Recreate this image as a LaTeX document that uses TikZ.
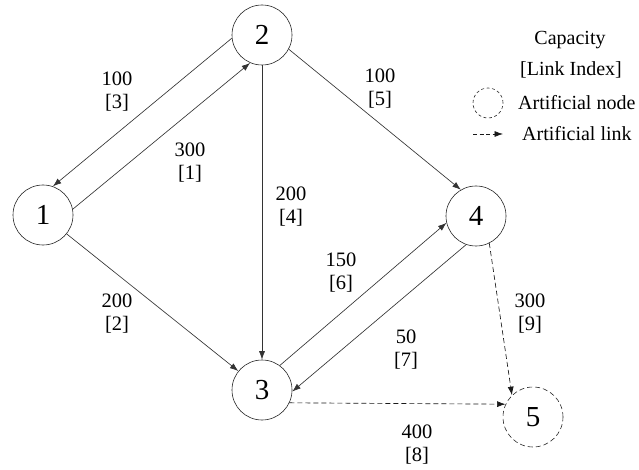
\documentclass[tikz,border=0pt]{standalone}
\usepackage{fontspec}
\setmainfont{Liberation Serif}
\usetikzlibrary{arrows.meta}
\begin{document}
\begin{tikzpicture}[x=1pt,y=-1pt,
  vertex/.style={circle,draw=black!85,line width=0.6pt,minimum size=60pt,inner sep=0pt,font=\fontsize{29}{29}\selectfont},
  artnode/.style={vertex,dashed,dash pattern=on 5pt off 3pt},
  link/.style={draw=black!80,line width=0.65pt,-{Latex[length=8.5pt,width=6pt]}},
  artlink/.style={link,draw=black!90,dash pattern=on 5pt off 3pt},
  caplabel/.style={align=center,inner sep=0pt,font=\fontsize{20.5}{23}\selectfont},
  legtext/.style={inner sep=0pt,font=\fontsize{20}{23}\selectfont}]
\useasboundingbox (0,0) rectangle (639,470);
% nodes
\node[vertex] (n1) at (43,215) {1};
\node[vertex] (n2) at (262,35) {2};
\node[vertex] (n3) at (262,390) {3};
\node[vertex] (n4) at (476,216) {4};
\node[artnode] (n5) at (533,417) {5};
% links
\draw[link] (n2.186) -- (n1.71);
\draw[link] (n1.11) -- (n2.247);
\draw[link] (n1) -- (n3);
\draw[link] (n2) -- (n3);
\draw[link] (n2.-28) -- (n4.120);
\draw[link] (n3.54) -- (n4.193);
\draw[link] (n4.251) -- (n3.-3);
\draw[artlink] (n4.-64) -- (n5.134);
\draw[artlink] (n3.-25) -- (n5.155);
% capacities
\node[caplabel] (c3) at (117,92) {100\\{[3]}};
\node[caplabel] (c1) at (190,163) {300\\{[1]}};
\node[caplabel] (c4) at (291,207) {200\\{[4]}};
\node[caplabel] (c5) at (380,89) {100\\{[5]}};
\node[caplabel] (c2) at (117,314) {200\\{[2]}};
\node[caplabel] (c6) at (341,273) {150\\{[6]}};
\node[caplabel] (c7) at (406,350) {50\\{[7]}};
\node[caplabel] (c9) at (530,314) {300\\{[9]}};
\node[caplabel] (c8) at (417,445) {400\\{[8]}};
% legend
\node[legtext] (lcap) at (570,40) {Capacity};
\node[legtext] (lidx) at (571,70) {[Link Index]};
\node[circle,draw=black!85,dashed,dash pattern=on 3pt off 2.5pt,line width=0.6pt,minimum size=30pt,inner sep=0pt] (lnode) at (488,103) {};
\node[legtext,anchor=west] (lnodet) at (518,103) {Artificial node};
\coordinate (la) at (473,134);
\coordinate (lb) at (503,134);
\draw[link,draw=black!90,dash pattern=on 4pt off 2.5pt] (la) -- (lb);
\node[legtext,anchor=west] (llinkt) at (522,134) {Artificial link};
\end{tikzpicture}
\end{document}
